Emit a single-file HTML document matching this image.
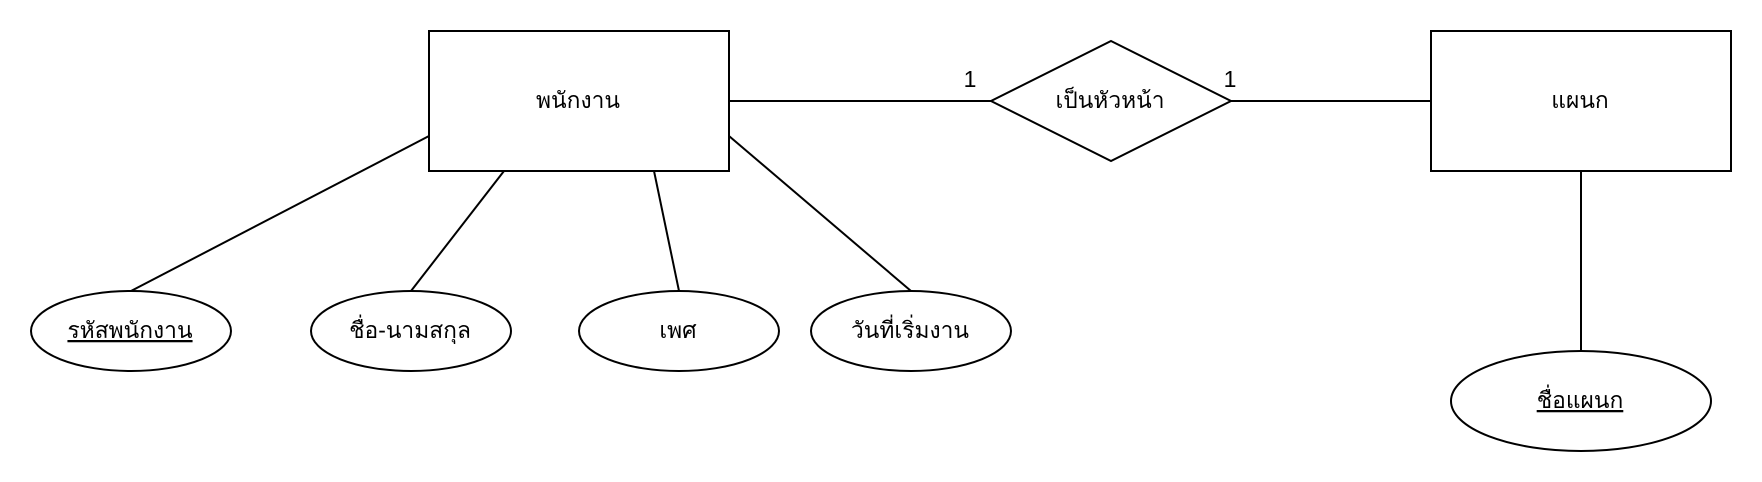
<!DOCTYPE html>
<html lang="th">
<head>
<meta charset="utf-8">
<style>
html,body{margin:0;padding:0;background:#fff;width:1762px;height:482px;overflow:hidden}
svg{display:block}
text{font-family:"Liberation Sans","Noto Sans CJK SC","DejaVu Sans",sans-serif;font-size:22.8px;fill:#000;text-anchor:middle}
text.n{font-size:23px}
</style>
</head>
<body>
<svg width="1762" height="482" viewBox="0 0 1762 482" xmlns="http://www.w3.org/2000/svg">
<g fill="none" stroke="#000" stroke-width="2">
<line x1="429" y1="136" x2="131" y2="291"/>
<line x1="504" y1="171" x2="411" y2="291"/>
<line x1="654" y1="171" x2="679" y2="291"/>
<line x1="729" y1="136" x2="911" y2="291"/>
<line x1="729" y1="101" x2="991" y2="101"/>
<line x1="1231" y1="101" x2="1431" y2="101"/>
<line x1="1581" y1="171" x2="1581" y2="351"/>
<rect x="429" y="31" width="300" height="140" fill="#fff"/>
<rect x="1431" y="31" width="300" height="140" fill="#fff"/>
<polygon points="1111,41 1231,101 1111,161 991,101" fill="#fff"/>
<ellipse cx="131" cy="331" rx="100" ry="40" fill="#fff"/>
<ellipse cx="411" cy="331" rx="100" ry="40" fill="#fff"/>
<ellipse cx="679" cy="331" rx="100" ry="40" fill="#fff"/>
<ellipse cx="911" cy="331" rx="100" ry="40" fill="#fff"/>
<ellipse cx="1581" cy="401" rx="130" ry="50" fill="#fff"/>
</g>
<text x="578" y="108">พนักงาน</text>
<text x="1110" y="108">เป็นหัวหน้า</text>
<text x="1580" y="108">แผนก</text>
<text class="n" x="970" y="87">1</text>
<text class="n" x="1230" y="87">1</text>
<text x="130" y="338" text-decoration="underline">รหัสพนักงาน</text>
<text x="410" y="338">ชื่อ-นามสกุล</text>
<text x="678" y="338">เพศ</text>
<text x="910" y="338">วันที่เริ่มงาน</text>
<text x="1580" y="408" text-decoration="underline">ชื่อแผนก</text>
</svg>
</body>
</html>
